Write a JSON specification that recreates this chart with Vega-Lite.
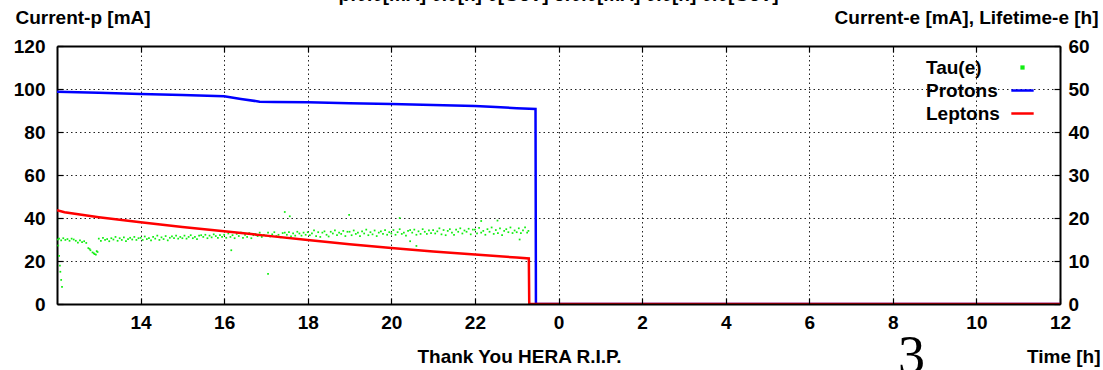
{
  "$schema": "https://vega.github.io/schema/vega-lite/v6.json",
  "width": 1003,
  "height": 258,
  "autosize": {"type": "none"},
  "padding": {"left": 57, "top": 46, "right": 43, "bottom": 66},
  "background": "white",
  "title": {
    "text": "p:0.0[mA] 0.0[h] 0[GeV]  e:0.0[mA] 0.0[h] 0.0[GeV]",
    "anchor": "middle",
    "frame": "group",
    "font": "Liberation Sans",
    "fontSize": 19,
    "fontWeight": "bold",
    "color": "black",
    "offset": 3
  },
  "config": {
    "view": {"stroke": null},
    "legend": {"rowPadding": -3.3},
    "axis": {
      "labelFont": "Liberation Sans",
      "labelFontSize": 19,
      "labelFontWeight": "bold",
      "labelColor": "black",
      "titleFont": "Liberation Sans",
      "titleFontSize": 19,
      "titleFontWeight": "bold",
      "titleColor": "black",
      "domainColor": "black",
      "domainWidth": 2,
      "tickColor": "black",
      "tickWidth": 1.2,
      "gridColor": "#222222",
      "gridDash": [1.5, 3],
      "gridWidth": 1,
      "labelFlush": false,
      "labelOverlap": false
    }
  },
  "datasets": {
    "protons": [
      {"t": 12, "v": 98.7}, {"t": 13, "v": 98.2}, {"t": 14, "v": 97.7}, {"t": 15, "v": 97.2},
      {"t": 16, "v": 96.6}, {"t": 16.4, "v": 95.4}, {"t": 16.85, "v": 94.1}, {"t": 17.2, "v": 94.0},
      {"t": 18, "v": 93.8}, {"t": 19, "v": 93.4}, {"t": 20, "v": 93.0}, {"t": 21, "v": 92.6},
      {"t": 22, "v": 92.1}, {"t": 22.5, "v": 91.6}, {"t": 23, "v": 91.1}, {"t": 23.45, "v": 90.7},
      {"t": 23.46, "v": 0}, {"t": 36, "v": 0}
    ],
    "leptons": [
      {"t": 12, "v": 21.8}, {"t": 12.18, "v": 21.35}, {"t": 13, "v": 20.2}, {"t": 14, "v": 19.0},
      {"t": 15, "v": 17.9}, {"t": 16, "v": 16.9}, {"t": 17, "v": 15.9}, {"t": 18, "v": 14.9},
      {"t": 19, "v": 13.9}, {"t": 20, "v": 13.0}, {"t": 21, "v": 12.2}, {"t": 22, "v": 11.5},
      {"t": 23, "v": 10.8}, {"t": 23.29, "v": 10.6}, {"t": 23.3, "v": 0}, {"t": 36, "v": 0}
    ],
    "tau": [
      {"t": 12.03, "v": 13.6}, {"t": 12.05, "v": 11.2}, {"t": 12.07, "v": 8.9}, {"t": 12.08, "v": 7.5}, {"t": 12.1, "v": 5.6}, {"t": 12.12, "v": 4.0},
      {"t": 12.02, "v": 15.0}, {"t": 12.05, "v": 15.2}, {"t": 12.1, "v": 14.8}, {"t": 12.15, "v": 15.3}, {"t": 12.2, "v": 14.9}, {"t": 12.25, "v": 15.1}, {"t": 12.3, "v": 14.7}, {"t": 12.35, "v": 15.2}, {"t": 12.4, "v": 15.0},
      {"t": 12.45, "v": 14.7}, {"t": 12.5, "v": 14.3}, {"t": 12.55, "v": 14.8}, {"t": 12.6, "v": 14.4}, {"t": 12.65, "v": 14.6}, {"t": 12.7, "v": 14.2},
      {"t": 12.75, "v": 13.0}, {"t": 12.78, "v": 12.8}, {"t": 12.8, "v": 12.5}, {"t": 12.85, "v": 12.0}, {"t": 12.88, "v": 11.8}, {"t": 12.9, "v": 11.6}, {"t": 12.93, "v": 11.5}, {"t": 12.95, "v": 12.3}, {"t": 12.97, "v": 12.1},
      {"t": 13.0, "v": 15.2}, {"t": 13.05, "v": 14.7}, {"t": 13.1, "v": 15.4}, {"t": 13.15, "v": 14.9}, {"t": 13.2, "v": 15.1}, {"t": 13.25, "v": 14.6}, {"t": 13.3, "v": 15.3}, {"t": 13.35, "v": 15.0}, {"t": 13.4, "v": 15.6}, {"t": 13.45, "v": 14.7},
      {"t": 13.5, "v": 15.3}, {"t": 13.55, "v": 14.9}, {"t": 13.6, "v": 15.5}, {"t": 13.65, "v": 14.6}, {"t": 13.7, "v": 15.1}, {"t": 13.75, "v": 15.4}, {"t": 13.8, "v": 15.0}, {"t": 13.85, "v": 15.6}, {"t": 13.9, "v": 14.9}, {"t": 13.95, "v": 15.3},
      {"t": 14.0, "v": 15.4}, {"t": 14.05, "v": 14.9}, {"t": 14.1, "v": 15.7}, {"t": 14.15, "v": 15.1}, {"t": 14.2, "v": 15.3}, {"t": 14.25, "v": 14.8}, {"t": 14.3, "v": 15.6}, {"t": 14.35, "v": 15.2}, {"t": 14.4, "v": 15.9}, {"t": 14.45, "v": 14.9},
      {"t": 14.5, "v": 15.5}, {"t": 14.55, "v": 15.1}, {"t": 14.6, "v": 15.8}, {"t": 14.65, "v": 14.8}, {"t": 14.7, "v": 15.4}, {"t": 14.75, "v": 15.7}, {"t": 14.8, "v": 15.3}, {"t": 14.85, "v": 15.9}, {"t": 14.9, "v": 15.2}, {"t": 14.95, "v": 15.6},
      {"t": 15.0, "v": 15.3}, {"t": 15.05, "v": 15.9}, {"t": 15.1, "v": 15.2}, {"t": 15.15, "v": 15.6}, {"t": 15.2, "v": 16.0}, {"t": 15.25, "v": 15.3}, {"t": 15.3, "v": 15.6}, {"t": 15.35, "v": 15.1}, {"t": 15.4, "v": 15.9}, {"t": 15.45, "v": 16.0},
      {"t": 15.5, "v": 15.6}, {"t": 15.55, "v": 16.1}, {"t": 15.6, "v": 15.3}, {"t": 15.65, "v": 15.9}, {"t": 15.7, "v": 15.5}, {"t": 15.75, "v": 16.2}, {"t": 15.8, "v": 15.8}, {"t": 15.85, "v": 15.4}, {"t": 15.9, "v": 16.0}, {"t": 15.95, "v": 15.6},
      {"t": 16.0, "v": 16.1}, {"t": 16.05, "v": 15.4}, {"t": 16.1, "v": 16.4}, {"t": 16.15, "v": 15.6}, {"t": 16.2, "v": 16.0}, {"t": 16.25, "v": 15.3}, {"t": 16.3, "v": 16.3}, {"t": 16.35, "v": 15.8}, {"t": 16.4, "v": 16.6}, {"t": 16.45, "v": 15.4},
      {"t": 16.5, "v": 16.1}, {"t": 16.55, "v": 15.6}, {"t": 16.6, "v": 16.5}, {"t": 16.65, "v": 15.3}, {"t": 16.7, "v": 16.0}, {"t": 16.75, "v": 16.3}, {"t": 16.8, "v": 15.8}, {"t": 16.85, "v": 16.6}, {"t": 16.9, "v": 15.6}, {"t": 16.95, "v": 16.1},
      {"t": 17.0, "v": 15.9}, {"t": 17.05, "v": 16.6}, {"t": 17.1, "v": 15.7}, {"t": 17.15, "v": 16.2}, {"t": 17.2, "v": 16.7}, {"t": 17.25, "v": 15.8}, {"t": 17.3, "v": 16.1}, {"t": 17.35, "v": 15.5}, {"t": 17.4, "v": 16.5}, {"t": 17.45, "v": 16.6},
      {"t": 17.5, "v": 16.1}, {"t": 17.55, "v": 16.7}, {"t": 17.6, "v": 15.7}, {"t": 17.65, "v": 16.4}, {"t": 17.7, "v": 15.9}, {"t": 17.75, "v": 16.8}, {"t": 17.8, "v": 16.4}, {"t": 17.85, "v": 15.9}, {"t": 17.9, "v": 16.6}, {"t": 17.95, "v": 16.1},
      {"t": 18.0, "v": 16.7}, {"t": 18.05, "v": 16.0}, {"t": 18.1, "v": 16.4}, {"t": 18.15, "v": 17.1}, {"t": 18.2, "v": 15.8}, {"t": 18.25, "v": 16.7}, {"t": 18.3, "v": 15.6}, {"t": 18.35, "v": 16.6}, {"t": 18.4, "v": 16.9}, {"t": 18.45, "v": 16.1},
      {"t": 18.5, "v": 15.7}, {"t": 18.55, "v": 16.8}, {"t": 18.6, "v": 16.4}, {"t": 18.65, "v": 17.1}, {"t": 18.7, "v": 16.0}, {"t": 18.75, "v": 16.6}, {"t": 18.8, "v": 16.3}, {"t": 18.85, "v": 17.0}, {"t": 18.9, "v": 15.8}, {"t": 18.95, "v": 16.8},
      {"t": 19.0, "v": 16.8}, {"t": 19.05, "v": 16.0}, {"t": 19.1, "v": 17.1}, {"t": 19.15, "v": 16.3}, {"t": 19.2, "v": 16.6}, {"t": 19.25, "v": 15.8}, {"t": 19.3, "v": 16.9}, {"t": 19.35, "v": 16.4}, {"t": 19.4, "v": 17.3}, {"t": 19.45, "v": 16.0},
      {"t": 19.5, "v": 16.7}, {"t": 19.55, "v": 16.2}, {"t": 19.6, "v": 17.1}, {"t": 19.65, "v": 15.8}, {"t": 19.7, "v": 16.6}, {"t": 19.75, "v": 16.9}, {"t": 19.8, "v": 16.3}, {"t": 19.85, "v": 17.2}, {"t": 19.9, "v": 16.1}, {"t": 19.95, "v": 16.7},
      {"t": 20.0, "v": 16.4}, {"t": 20.05, "v": 17.2}, {"t": 20.1, "v": 16.1}, {"t": 20.15, "v": 16.7}, {"t": 20.2, "v": 17.4}, {"t": 20.25, "v": 16.3}, {"t": 20.3, "v": 16.6}, {"t": 20.35, "v": 15.9}, {"t": 20.4, "v": 17.0}, {"t": 20.45, "v": 17.2},
      {"t": 20.5, "v": 16.6}, {"t": 20.55, "v": 17.3}, {"t": 20.6, "v": 16.1}, {"t": 20.65, "v": 16.9}, {"t": 20.7, "v": 16.3}, {"t": 20.75, "v": 17.4}, {"t": 20.8, "v": 16.8}, {"t": 20.85, "v": 16.3}, {"t": 20.9, "v": 17.1}, {"t": 20.95, "v": 16.5},
      {"t": 21.0, "v": 17.2}, {"t": 21.05, "v": 16.4}, {"t": 21.1, "v": 16.9}, {"t": 21.15, "v": 17.6}, {"t": 21.2, "v": 16.2}, {"t": 21.25, "v": 17.2}, {"t": 21.3, "v": 16.0}, {"t": 21.35, "v": 17.0}, {"t": 21.4, "v": 17.4}, {"t": 21.45, "v": 16.6},
      {"t": 21.5, "v": 16.1}, {"t": 21.55, "v": 17.3}, {"t": 21.6, "v": 16.8}, {"t": 21.65, "v": 17.6}, {"t": 21.7, "v": 16.4}, {"t": 21.75, "v": 17.1}, {"t": 21.8, "v": 16.8}, {"t": 21.85, "v": 17.5}, {"t": 21.9, "v": 16.2}, {"t": 21.95, "v": 17.3},
      {"t": 22.0, "v": 17.3}, {"t": 22.05, "v": 16.4}, {"t": 22.1, "v": 17.7}, {"t": 22.15, "v": 16.6}, {"t": 22.2, "v": 17.0}, {"t": 22.25, "v": 16.1}, {"t": 22.3, "v": 17.4}, {"t": 22.35, "v": 16.8}, {"t": 22.4, "v": 17.8}, {"t": 22.45, "v": 16.3},
      {"t": 22.5, "v": 17.2}, {"t": 22.55, "v": 16.5}, {"t": 22.6, "v": 17.6}, {"t": 22.65, "v": 16.0}, {"t": 22.7, "v": 17.0}, {"t": 22.75, "v": 17.4}, {"t": 22.8, "v": 16.7}, {"t": 22.85, "v": 17.8}, {"t": 22.9, "v": 16.5}, {"t": 22.95, "v": 17.1},
      {"t": 23.0, "v": 16.7}, {"t": 23.05, "v": 17.6}, {"t": 23.1, "v": 16.5}, {"t": 23.15, "v": 17.1}, {"t": 23.2, "v": 17.8}, {"t": 23.25, "v": 16.6}, {"t": 23.28, "v": 17.0},
      {"t": 16.17, "v": 12.5}, {"t": 17.05, "v": 7.0}, {"t": 17.45, "v": 21.4}, {"t": 17.57, "v": 20.4}, {"t": 18.99, "v": 20.7}, {"t": 20.2, "v": 20.0},
      {"t": 20.6, "v": 13.5}, {"t": 20.45, "v": 14.6}, {"t": 22.15, "v": 19.3}, {"t": 22.54, "v": 19.4}, {"t": 23.07, "v": 15.0}
    ]
  },
  "layer": [
    {
      "data": {"name": "protons"},
      "mark": {"type": "line", "strokeWidth": 2.5, "clip": true},
      "encoding": {
        "x": {
          "field": "t", "type": "quantitative",
          "scale": {"domain": [12, 36], "nice": false, "zero": false},
          "axis": {
            "orient": "bottom", "values": [14, 16, 18, 20, 22, 24, 26, 28, 30, 32, 34, 36],
            "labelExpr": "'' + (datum.value % 24)",
            "tickSize": -6, "labelPadding": 15, "grid": false, "zindex": 1,
            "title": "Time [h]", "titleAngle": 0, "titleX": 1043, "titleY": 58,
            "titleAlign": "right", "titleBaseline": "alphabetic"
          }
        },
        "y": {
          "field": "v", "type": "quantitative",
          "scale": {"domain": [0, 120], "nice": false},
          "axis": {
            "orient": "left", "values": [0, 20, 40, 60, 80, 100, 120],
            "tickSize": -6, "labelPadding": 18, "grid": true,
            "title": "Current-p [mA]", "titleAngle": 0, "titleX": -42, "titleY": -23,
            "titleAlign": "left", "titleBaseline": "alphabetic"
          }
        },
        "color": {
          "datum": "Protons", "type": "nominal",
          "scale": {"domain": ["Tau(e)", "Protons", "Leptons"], "range": ["#11ee11", "#0000ff", "#ff0000"]},
          "legend": {
            "title": null, "orient": "none", "legendX": 838, "legendY": 9,
            "labelFont": "Liberation Sans", "labelFontSize": 19, "labelFontWeight": "bold", "labelColor": "black",
            "symbolType": "stroke", "symbolSize": 250, "symbolStrokeWidth": 2.5,
            "symbolOffset": 115, "labelOffset": -109,
            "encode": {
              "symbols": {"update": {
                "shape": {"signal": "datum.value === 'Tau(e)' ? 'square' : 'stroke'"},
                "size": {"signal": "datum.value === 'Tau(e)' ? 3 : 500"},
                "fill": {"signal": "datum.value === 'Tau(e)' ? '#11ee11' : 'transparent'"},
                "stroke": {"signal": "datum.value === 'Protons' ? '#0000ff' : datum.value === 'Leptons' ? '#ff0000' : 'transparent'"},
                "strokeWidth": {"value": 2.5},
                "opacity": {"value": 1}
              }}
            }
          }
        }
      }
    },
    {
      "data": {"name": "tau"},
      "mark": {"type": "square", "size": 3, "filled": true, "opacity": 1},
      "encoding": {
        "x": {
          "field": "t", "type": "quantitative",
          "scale": {"domain": [12, 36], "nice": false, "zero": false},
          "axis": {
            "orient": "top", "values": [14, 16, 18, 20, 22, 24, 26, 28, 30, 32, 34, 36],
            "labels": false, "tickSize": -6, "grid": true, "title": null
          }
        },
        "y": {
          "field": "v", "type": "quantitative",
          "scale": {"domain": [0, 60], "nice": false},
          "axis": {
            "orient": "right", "values": [0, 10, 20, 30, 40, 50, 60],
            "tickSize": -6, "labelPadding": 14, "grid": false,
            "title": "Current-e [mA], Lifetime-e [h]", "titleAngle": 0, "titleX": 38, "titleY": -23,
            "titleAlign": "right", "titleBaseline": "alphabetic"
          }
        },
        "color": {"datum": "Tau(e)", "type": "nominal"}
      }
    },
    {
      "data": {"name": "leptons"},
      "mark": {"type": "line", "strokeWidth": 2.5, "clip": true},
      "encoding": {
        "x": {
          "field": "t", "type": "quantitative",
          "scale": {"domain": [12, 36], "nice": false, "zero": false},
          "axis": {
            "orient": "bottom", "labels": false, "ticks": false, "domain": false, "grid": false,
            "title": "Thank You HERA R.I.P.", "titleAngle": 0, "titleX": 462, "titleY": 58,
            "titleAlign": "center", "titleBaseline": "alphabetic"
          }
        },
        "y": {
          "field": "v", "type": "quantitative",
          "scale": {"domain": [0, 60], "nice": false},
          "axis": {
            "orient": "right", "labels": false, "ticks": false, "domain": false, "grid": false,
            "title": "3", "titleFont": "Liberation Serif", "titleFontWeight": "normal", "titleFontSize": 54,
            "titleAngle": 0, "titleX": -149, "titleY": 326, "titleAlign": "center", "titleBaseline": "alphabetic"
          }
        },
        "color": {"datum": "Leptons", "type": "nominal"}
      }
    }
  ],
  "resolve": {"scale": {"y": "independent"}, "axis": {"x": "independent", "y": "independent"}}
}
